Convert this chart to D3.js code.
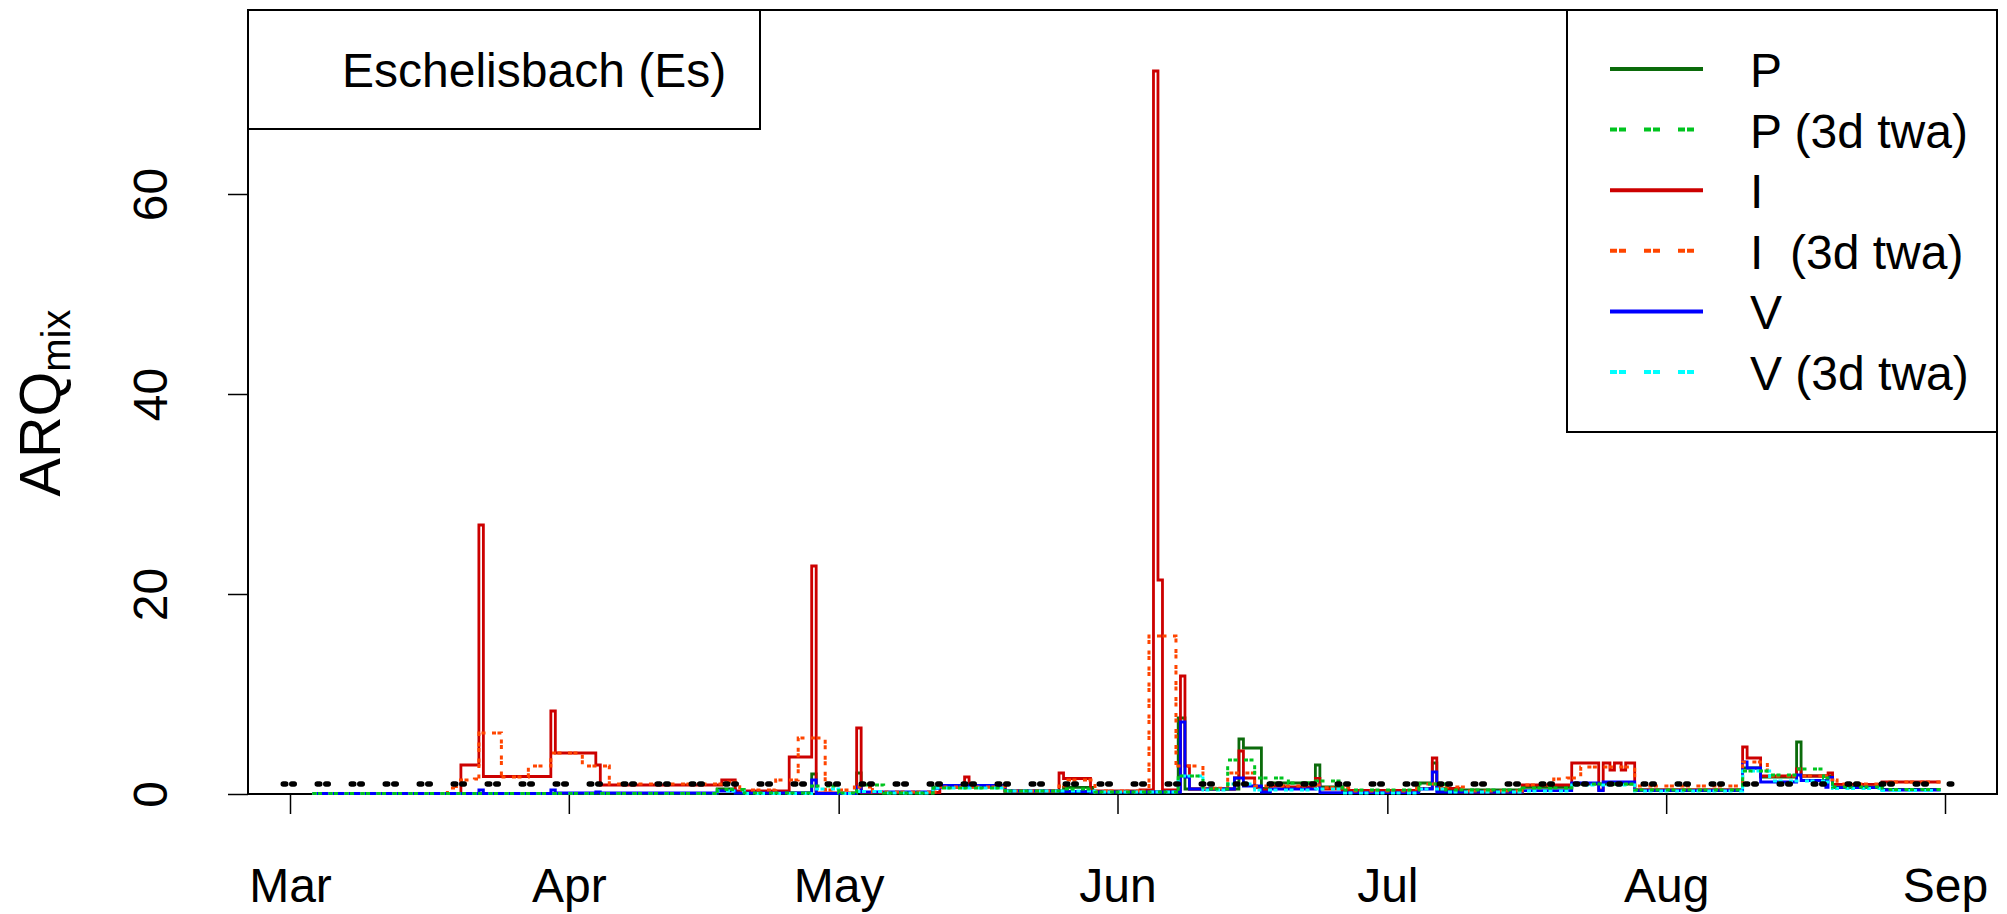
<!DOCTYPE html>
<html>
<head>
<meta charset="UTF-8">
<title>ARQmix Eschelisbach</title>
<script src="https://d3js.org/d3.v7.min.js"></script>
<style>
  body { margin: 0; background: #fff; }
  svg text { font-family: "Liberation Sans", Arial, sans-serif; fill: #000; }
</style>
</head>
<body>
<div id="chart"></div>
<script>
// step series: [month-day hour, value], value holds until the next point
const year = "2017-";

const seriesP = [
  ["03-03 12", 0.05], ["04-17 12", 0.5], ["04-19 12", 0.1], ["04-28 00", 2.0], ["04-28 12", 0.05],
  ["05-03 00", 2.1], ["05-03 12", 0.1], ["05-11 12", 0.7], ["05-19 12", 0.3], ["05-26 00", 0.67],
  ["05-29 06", 0.2], ["06-07 18", 7.6], ["06-08 12", 0.5], ["06-14 12", 5.5], ["06-15 00", 4.6],
  ["06-17 00", 0.57], ["06-18 00", 1.1], ["06-23 00", 2.9], ["06-23 12", 0.7], ["06-26 00", 0.33],
  ["07-04 12", 1.1], ["07-06 00", 3.1], ["07-06 12", 0.4], ["07-16 00", 0.67], ["07-21 12", 1.0],
  ["07-28 12", 0.4], ["08-09 12", 2.6], ["08-11 12", 1.7], ["08-15 12", 5.2], ["08-16 00", 1.8],
  ["08-19 12", 0.7], ["08-25 00", 0.47], ["08-31 12", 0.47]
];

const seriesP3 = [
  ["03-03 12", 0.05], ["04-17 12", 0.45], ["04-20 12", 0.1], ["04-28 00", 0.8], ["05-01 00", 0.1],
  ["05-03 00", 0.9], ["05-06 00", 0.1], ["05-11 12", 0.6], ["05-19 12", 0.3], ["05-26 00", 0.5],
  ["05-29 12", 0.2], ["06-07 18", 1.8], ["06-10 12", 0.5], ["06-13 06", 3.4], ["06-16 06", 1.6],
  ["06-20 00", 1.1], ["06-23 00", 1.3], ["06-26 00", 0.4], ["07-04 12", 1.0], ["07-07 12", 0.4],
  ["07-16 00", 0.6], ["07-21 12", 1.0], ["07-28 12", 0.4], ["08-09 12", 2.3], ["08-12 12", 1.9],
  ["08-15 12", 2.5], ["08-18 12", 1.6], ["08-19 12", 0.7], ["08-25 00", 0.45], ["08-31 12", 0.45]
];

const seriesI = [
  ["03-03 12", 0.05], ["03-20 00", 2.9], ["03-22 00", 26.9], ["03-22 12", 1.75], ["03-30 00", 8.3],
  ["03-30 12", 4.1], ["04-04 00", 2.9], ["04-04 12", 0.9], ["04-18 00", 1.4], ["04-19 12", 0.3],
  ["04-25 12", 3.7], ["04-28 00", 22.8], ["04-28 12", 0.1], ["05-03 00", 6.6], ["05-03 12", 0.15],
  ["05-12 06", 0.7], ["05-15 00", 1.7], ["05-15 12", 0.75], ["05-19 12", 0.3], ["05-25 12", 2.1],
  ["05-26 00", 1.55], ["05-29 00", 0.3], ["06-03 12", 0.4], ["06-05 00", 72.3], ["06-05 12", 21.4],
  ["06-06 00", 0.4], ["06-08 00", 11.8], ["06-08 12", 2.8], ["06-09 00", 0.5], ["06-14 00", 1.6],
  ["06-14 12", 4.3], ["06-15 00", 1.6], ["06-16 06", 0.65], ["06-17 00", 0.4], ["06-18 00", 0.8],
  ["06-19 12", 0.7], ["06-23 00", 1.57], ["06-23 12", 0.5], ["06-26 00", 0.35], ["07-04 12", 0.57],
  ["07-06 00", 3.6], ["07-06 12", 0.57], ["07-09 00", 0.2], ["07-16 00", 0.9], ["07-21 12", 3.1],
  ["07-24 12", 0.4], ["07-25 00", 3.1], ["07-25 18", 2.4], ["07-26 06", 3.1], ["07-27 00", 2.4],
  ["07-27 12", 3.1], ["07-28 12", 0.4], ["08-09 12", 4.7], ["08-10 00", 3.6], ["08-11 12", 1.8],
  ["08-15 12", 2.5], ["08-16 00", 1.8], ["08-19 00", 2.1], ["08-19 12", 0.97], ["08-25 00", 1.2],
  ["08-31 12", 1.2]
];

const seriesI3 = [
  ["03-03 12", 0.05], ["03-18 12", 0.6], ["03-19 12", 1.4], ["03-21 12", 1.5], ["03-22 00", 6.1],
  ["03-24 12", 1.7], ["03-27 12", 2.8], ["03-30 00", 4.1], ["04-02 12", 2.8], ["04-05 12", 1.0],
  ["04-18 00", 1.2], ["04-20 00", 0.4], ["04-24 00", 1.4], ["04-26 12", 5.6], ["04-29 12", 0.4],
  ["05-02 18", 0.7], ["05-04 18", 0.2], ["05-12 00", 0.7], ["05-19 12", 0.3], ["05-25 12", 0.8],
  ["05-26 12", 1.4], ["05-29 12", 0.3], ["06-04 12", 15.8], ["06-07 12", 2.8], ["06-10 12", 0.57],
  ["06-13 06", 2.1], ["06-16 06", 0.8], ["06-23 00", 0.9], ["06-24 00", 0.63], ["06-27 00", 0.3],
  ["07-04 06", 1.0], ["07-07 00", 0.7], ["07-10 00", 0.3], ["07-16 00", 0.9], ["07-19 12", 1.5],
  ["07-21 00", 1.6], ["07-22 12", 2.7], ["07-28 12", 0.8], ["08-09 12", 3.2], ["08-12 06", 1.8],
  ["08-19 00", 1.4], ["08-20 00", 1.0], ["08-25 00", 1.2], ["08-31 12", 1.2]
];

const seriesV = [
  ["03-03 12", 0.05], ["03-22 00", 0.4], ["03-22 12", 0.05], ["03-30 00", 0.4], ["03-30 12", 0.1],
  ["04-04 00", 0.2], ["04-04 12", 0.1], ["04-17 12", 0.3], ["04-19 12", 0.1], ["04-28 00", 1.4],
  ["04-28 12", 0.05], ["05-03 00", 0.7], ["05-03 12", 0.2], ["05-11 12", 0.57], ["05-12 06", 0.85],
  ["05-19 12", 0.3], ["05-25 12", 0.25], ["05-29 00", 0.2], ["06-08 00", 7.2], ["06-08 12", 1.7],
  ["06-09 00", 0.5], ["06-14 00", 1.6], ["06-15 00", 0.8], ["06-17 00", 0.2], ["06-18 00", 0.5],
  ["06-23 00", 0.9], ["06-23 12", 0.13], ["07-04 12", 0.5], ["07-06 00", 2.2], ["07-06 12", 0.2],
  ["07-16 00", 0.33], ["07-21 12", 1.1], ["07-24 12", 0.33], ["07-25 00", 1.2], ["07-28 12", 0.33],
  ["08-09 12", 3.2], ["08-10 00", 2.6], ["08-11 12", 1.2], ["08-15 12", 1.9], ["08-16 00", 1.35],
  ["08-18 18", 0.67], ["08-19 00", 1.67], ["08-19 12", 0.63], ["08-25 00", 0.4], ["08-31 12", 0.4]
];

const seriesV3 = [
  ["03-03 12", 0.05], ["04-17 12", 0.3], ["04-20 12", 0.05], ["04-28 00", 0.5], ["05-01 00", 0.05],
  ["05-03 00", 0.25], ["05-06 00", 0.1], ["05-11 12", 0.6], ["05-19 12", 0.3], ["05-29 12", 0.2],
  ["06-07 18", 1.8], ["06-10 12", 0.4], ["06-13 06", 1.0], ["06-16 06", 0.4], ["06-23 00", 0.5],
  ["06-26 00", 0.1], ["07-04 12", 0.5], ["07-07 12", 0.2], ["07-16 00", 0.3], ["07-21 12", 0.9],
  ["07-28 12", 0.3], ["08-09 12", 2.3], ["08-12 12", 1.3], ["08-18 12", 1.2], ["08-19 12", 0.55],
  ["08-25 00", 0.35], ["08-31 12", 0.35]
];

const thresholdLine = [["02-28 06", 1], ["09-02 06", 1]];

const legendLabels = ["P", "P (3d twa)", "I", "I  (3d twa)", "V", "V (3d twa)"];
const legendColors = ["#0b6b0b", "#00c41f", "#cc0000", "#ff4500", "#0000ff", "#00ffff"];
const legendDashed = [false, true, false, true, false, true];
const yTicks = [0, 20, 40, 60];
const siteName = "Eschelisbach (Es)";

const parse = d3.timeParse("%Y-%m-%d %H");
const toPts = arr => arr.map(d => ({ t: parse(year + d[0]), v: d[1] }));

const width = 2007, height = 914;
const box = { left: 248, right: 1997, top: 10, bottom: 794 };

const svg = d3.select("#chart").append("svg")
  .attr("width", width)
  .attr("height", height);

const x = d3.scaleTime()
  .domain([parse(year + "03-01 00"), parse(year + "09-01 00")])
  .range([290, 1945]);

const y = d3.scaleLinear()
  .domain([0, 78.4])
  .range([box.bottom, box.top]);

// plot frame
svg.append("rect")
  .attr("x", box.left).attr("y", box.top)
  .attr("width", box.right - box.left).attr("height", box.bottom - box.top)
  .attr("fill", "none").attr("stroke", "#000").attr("stroke-width", 2);

// x axis
svg.append("g")
  .attr("transform", "translate(0," + box.bottom + ")")
  .call(d3.axisBottom(x).ticks(d3.timeMonth.every(1)).tickFormat(d3.timeFormat("%b"))
    .tickSize(20).tickPadding(54))
  .call(g => g.select(".domain").remove())
  .call(g => g.selectAll("line").attr("stroke-width", 1.5))
  .call(g => g.selectAll("text").attr("font-size", 48).attr("font-family", "Liberation Sans, Arial, sans-serif"));

// y axis, labels turned like R's las = 0
svg.append("g")
  .attr("transform", "translate(" + box.left + ",0)")
  .call(d3.axisLeft(y).tickValues(yTicks).tickSize(20))
  .call(g => g.select(".domain").remove())
  .call(g => g.selectAll("line").attr("stroke-width", 1.5))
  .call(g => g.selectAll("text")
    .attr("x", null).attr("dy", null)
    .attr("text-anchor", "middle")
    .attr("transform", "translate(-81,0) rotate(-90)")
    .attr("font-size", 48).attr("font-family", "Liberation Sans, Arial, sans-serif"));

// y title ARQ_mix
const ytitle = svg.append("text")
  .attr("transform", "translate(60,403) rotate(-90)")
  .attr("text-anchor", "middle");
ytitle.append("tspan").attr("font-size", 57.6).text("ARQ");
ytitle.append("tspan").attr("font-size", 40).attr("dy", 10).text("mix");

const line = d3.line()
  .x(d => x(d.t))
  .y(d => y(d.v))
  .curve(d3.curveStepAfter);

const drawOrder = [
  { data: seriesP, i: 0 },
  { data: seriesI, i: 2 },
  { data: seriesV, i: 4 },
  { data: seriesI3, i: 3 },
  { data: seriesV3, i: 5 },
  { data: seriesP3, i: 1 }
];

drawOrder.forEach(s => {
  svg.append("path")
    .datum(toPts(s.data))
    .attr("d", line)
    .attr("fill", "none")
    .attr("stroke", legendColors[s.i])
    .attr("stroke-width", legendDashed[s.i] ? 3 : 2.8)
    .attr("stroke-dasharray", legendDashed[s.i] ? "4 1.5 4 6.5" : null);
});

// ARQ = 1 threshold
svg.append("path")
  .datum(toPts(thresholdLine))
  .attr("d", d3.line().x(d => x(d.t)).y(d => y(d.v)))
  .attr("fill", "none")
  .attr("stroke", "#000")
  .attr("stroke-width", 5.5)
  .attr("stroke-linecap", "round")
  .attr("stroke-dasharray", "2.5 6 2.5 23");

// site box, top left
svg.append("rect")
  .attr("x", box.left).attr("y", box.top)
  .attr("width", 512).attr("height", 119)
  .attr("fill", "#fff").attr("stroke", "#000").attr("stroke-width", 2);
svg.append("text")
  .attr("x", 342).attr("y", 87)
  .attr("font-size", 48)
  .text(siteName);

// legend, top right
const lg = svg.append("g");
lg.append("rect")
  .attr("x", 1567).attr("y", box.top)
  .attr("width", box.right - 1567).attr("height", 422)
  .attr("fill", "#fff").attr("stroke", "#000").attr("stroke-width", 2);

const rows = lg.selectAll(".row")
  .data(legendLabels)
  .enter().append("g")
  .attr("class", "row")
  .attr("transform", (d, i) => "translate(0," + (69 + i * 60.6) + ")");

rows.append("line")
  .attr("x1", 1610).attr("x2", 1703)
  .attr("stroke", (d, i) => legendColors[i])
  .attr("stroke-width", 4)
  .attr("stroke-dasharray", (d, i) => legendDashed[i] ? "7 2 7 18" : null);

rows.append("text")
  .attr("x", 1750).attr("y", 18)
  .attr("font-size", 48)
  .style("white-space", "pre")
  .text(d => d);
</script>
</body>
</html>
